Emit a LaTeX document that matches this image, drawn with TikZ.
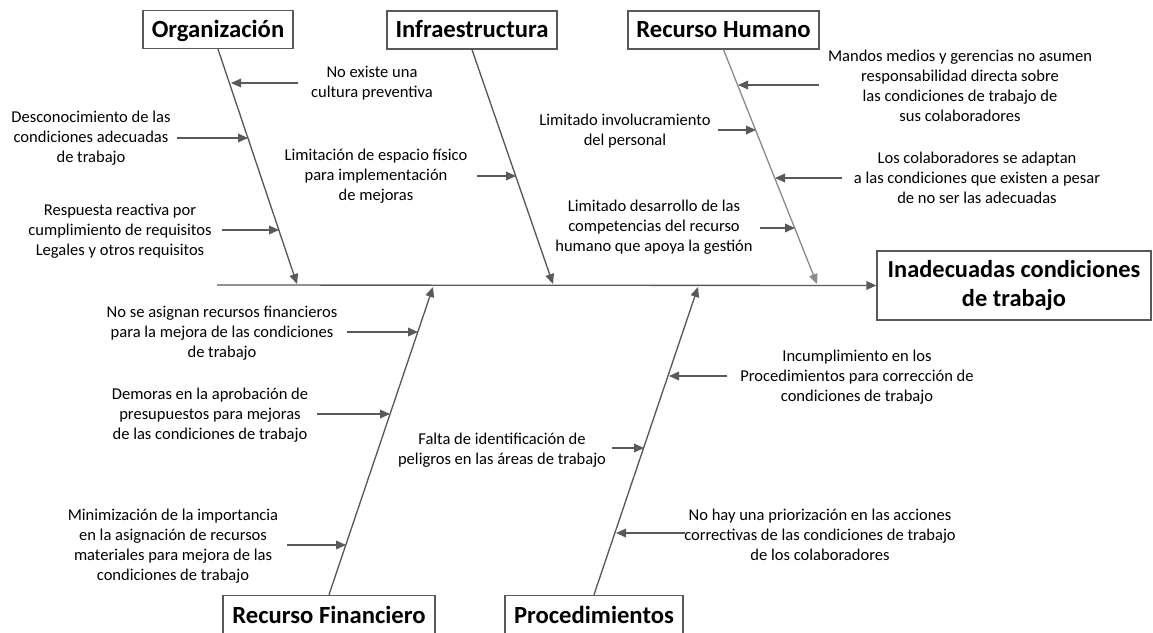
\documentclass[tikz,border=0pt]{standalone}
\usepackage{fontspec}
\setmainfont{Carlito}
\usetikzlibrary{arrows.meta}
\definecolor{linegray}{HTML}{595959}
\definecolor{bonelight}{HTML}{8C8C8C}
\tikzset{
  conn/.style={draw=linegray, line width=1pt, -{Triangle[length=7.5pt,width=6.5pt]}},
  connlight/.style={draw=bonelight, line width=1pt, -{Triangle[length=7.5pt,width=6.5pt]}},
  catbox/.style={draw=linegray, line width=1pt, fill=white, inner sep=0pt,
    text height=11.7pt, text depth=0pt,
    font=\fontsize{18.5}{22}\selectfont\bfseries},
  effectbox/.style={draw=linegray, line width=1pt, fill=white, inner sep=0pt, align=center,
    minimum width=205.5pt, minimum height=51.75pt,
    font=\fontsize{18.3}{21.75}\selectfont\bfseries},
  causetext/.style={inner sep=0pt, align=center, font=\fontsize{12.4}{15}\selectfont},
}
\begin{document}
\begin{tikzpicture}[x=0.75pt,y=-0.75pt]
\useasboundingbox (0,0) rectangle (1153,632);
\fill[white] (0,0) rectangle (1153,632);
\clip (0,0) rectangle (1153,632);

% category boxes
\node[catbox, minimum width=112.5pt, minimum height=28.5pt] (org) at (218,29.5) {Organización};
\node[catbox, minimum width=127.5pt, minimum height=28.5pt] (infra) at (472,30) {Infraestructura};
\node[catbox, minimum width=143.25pt, minimum height=28.5pt] (rh) at (723.5,30) {Recurso Humano};
\node[catbox, minimum width=159pt, minimum height=31pt] (rf) at (329,616) {Recurso Financiero};
\node[catbox, minimum width=133.5pt, minimum height=31pt] (proc) at (594,616) {Procedimientos};

% effect
\node[effectbox] (effect) at (1014,285.5) {Inadecuadas condiciones\\de trabajo};

% spine
\coordinate (spineS) at (217,285);
\draw[conn] (spineS) -- (effect.west);

% bone ends on spine
\coordinate (orgE) at (297,284);
\coordinate (infraE) at (553,284);
\coordinate (rhE) at (817,284);
\coordinate (rfE) at (433,287);
\coordinate (procE) at (698,287);
\draw[conn] (org.south) -- (orgE);
\draw[conn] (infra.south) -- (infraE);
\draw[connlight] (rh.south) -- (rhE);
\draw[conn] (rf.north) -- (rfE);
\draw[conn] (proc.north) -- (procE);

% Organización causes
\node[causetext] (o1) at (372,83) {No existe una\\cultura preventiva};
\coordinate (o1a) at (298,83); \coordinate (o1b) at (231,83);
\draw[conn] (o1a) -- (o1b);
\node[causetext] (o2) at (91,138) {Desconocimiento de las\\condiciones adecuadas\\de trabajo};
\coordinate (o2a) at (177,138); \coordinate (o2b) at (248,138);
\draw[conn] (o2a) -- (o2b);
\node[causetext] (o3) at (120,231) {Respuesta reactiva por\\cumplimiento de requisitos\\Legales y otros requisitos};
\coordinate (o3a) at (222,230); \coordinate (o3b) at (279,230);
\draw[conn] (o3a) -- (o3b);

% Infraestructura causes
\node[causetext] (i1) at (376,176) {Limitación de espacio físico\\para implementación\\de mejoras};
\coordinate (i1a) at (477,176); \coordinate (i1b) at (516,176);
\draw[conn] (i1a) -- (i1b);

% Recurso Humano causes
\node[causetext] (h1) at (625,131) {Limitado involucramiento\\del personal};
\coordinate (h1a) at (718,130); \coordinate (h1b) at (756,130);
\draw[conn] (h1a) -- (h1b);
\node[causetext] (h2) at (654,227) {Limitado desarrollo de las\\competencias del recurso\\humano que apoya la gestión};
\coordinate (h2a) at (760,228); \coordinate (h2b) at (795,228);
\draw[conn] (h2a) -- (h2b);
\node[causetext] (h3) at (960,86) {Mandos medios y gerencias no asumen\\responsabilidad directa sobre\\las condiciones de trabajo de\\sus colaboradores};
\coordinate (h3a) at (819,85); \coordinate (h3b) at (738,85);
\draw[conn] (h3a) -- (h3b);
\node[causetext] (h4) at (977,178) {Los colaboradores se adaptan\\a las condiciones que existen a pesar\\de no ser las adecuadas};
\coordinate (h4a) at (842,178); \coordinate (h4b) at (775,178);
\draw[conn] (h4a) -- (h4b);

% Recurso Financiero causes
\node[causetext] (f1) at (222,333) {No se asignan recursos financieros\\para la mejora de las condiciones\\de trabajo};
\coordinate (f1a) at (347,332); \coordinate (f1b) at (418,332);
\draw[conn] (f1a) -- (f1b);
\node[causetext] (f2) at (210,415) {Demoras en la aprobación de\\presupuestos para mejoras\\de las condiciones de trabajo};
\coordinate (f2a) at (317,414); \coordinate (f2b) at (390,414);
\draw[conn] (f2a) -- (f2b);
\node[causetext] (f3) at (173,546) {Minimización de la importancia\\en la asignación de recursos\\materiales para mejora de las\\condiciones de trabajo};
\coordinate (f3a) at (287,545); \coordinate (f3b) at (346,545);
\draw[conn] (f3a) -- (f3b);

% Procedimientos causes
\node[causetext] (p1) at (857,377) {Incumplimiento en los\\Procedimientos para corrección de\\condiciones de trabajo};
\coordinate (p1a) at (727,376); \coordinate (p1b) at (669,376);
\draw[conn] (p1a) -- (p1b);
\node[causetext] (p2) at (502,450) {Falta de identificación de\\peligros en las áreas de trabajo};
\coordinate (p2a) at (612,448); \coordinate (p2b) at (644,448);
\draw[conn] (p2a) -- (p2b);
\node[causetext] (p3) at (820,535) {No hay una priorización en las acciones\\correctivas de las condiciones de trabajo\\de los colaboradores};
\coordinate (p3a) at (685,533); \coordinate (p3b) at (616,533);
\draw[conn] (p3a) -- (p3b);
\end{tikzpicture}
\end{document}
